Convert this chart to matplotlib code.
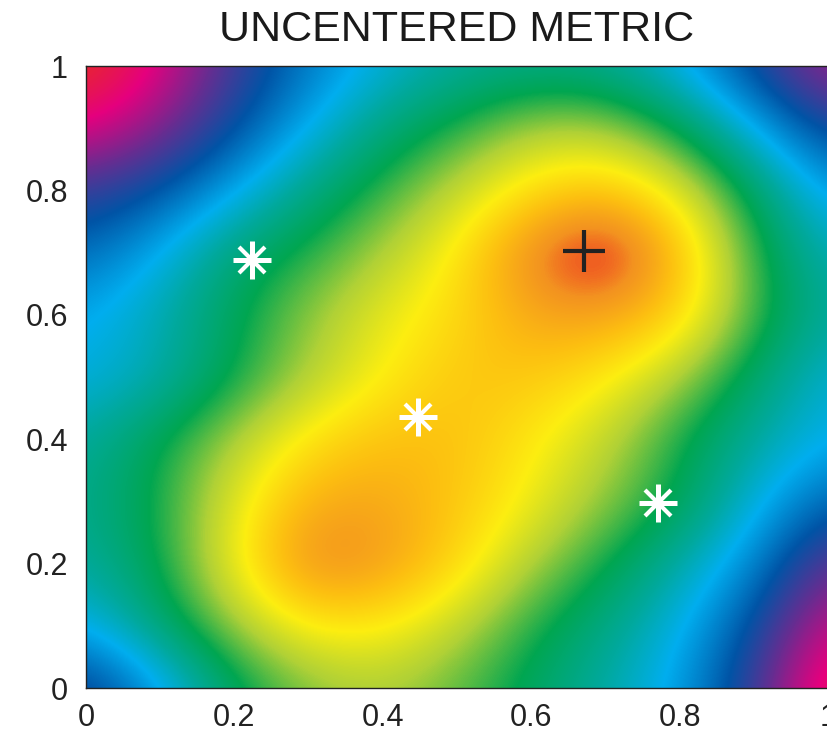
import matplotlib
matplotlib.use("Agg")
import matplotlib.pyplot as plt
import numpy as np
from matplotlib.colors import LinearSegmentedColormap

# Field values on a regular grid x, y = 0, 0.1, ..., 1
# (rows from y = 1.0 at top down to y = 0.0 at bottom), in colour-scale units.
grid_x = [0.0, 0.1, 0.2, 0.3, 0.4, 0.5, 0.6, 0.7, 0.8, 0.9, 1.0]
grid_y = [1.0, 0.9, 0.8, 0.7, 0.6, 0.5, 0.4, 0.3, 0.2, 0.1, 0.0]
field = [
    [-0.03, 0.10, 0.26, 0.38, 0.47, 0.53, 0.55, 0.54, 0.45, 0.30, 0.16],
    [0.10, 0.19, 0.32, 0.45, 0.57, 0.64, 0.72, 0.72, 0.62, 0.45, 0.30],
    [0.27, 0.33, 0.44, 0.56, 0.65, 0.74, 0.83, 0.87, 0.78, 0.60, 0.42],
    [0.36, 0.45, 0.58, 0.64, 0.72, 0.81, 0.96, 1.05, 0.88, 0.65, 0.50],
    [0.44, 0.51, 0.61, 0.70, 0.78, 0.83, 0.91, 0.92, 0.85, 0.66, 0.53],
    [0.46, 0.51, 0.62, 0.72, 0.80, 0.86, 0.86, 0.81, 0.72, 0.59, 0.47],
    [0.53, 0.62, 0.72, 0.82, 0.87, 0.87, 0.81, 0.74, 0.63, 0.53, 0.45],
    [0.55, 0.63, 0.77, 0.90, 0.91, 0.86, 0.79, 0.70, 0.62, 0.47, 0.35],
    [0.53, 0.62, 0.79, 0.96, 0.93, 0.84, 0.72, 0.63, 0.52, 0.40, 0.22],
    [0.45, 0.58, 0.71, 0.81, 0.81, 0.74, 0.64, 0.56, 0.46, 0.32, 0.12],
    [0.28, 0.42, 0.60, 0.69, 0.72, 0.67, 0.60, 0.52, 0.43, 0.27, 0.03],
]

# Marked points
star_x = [0.224, 0.448, 0.771]
star_y = [0.688, 0.436, 0.298]
best_x = [0.671]
best_y = [0.703]

title = "UNCENTERED METRIC"
ticks = [0, 0.2, 0.4, 0.6, 0.8, 1]
tick_labels = ["0", "0.2", "0.4", "0.6", "0.8", "1"]

# Colour scale (low -> high)
cmap_pos = [0.00, 0.10, 0.22, 0.33, 0.45, 0.53, 0.62, 0.72, 0.80, 0.87, 0.94, 1.00]
cmap_col = ["#e8262e", "#e5007e", "#662d91", "#0054a6", "#00aeef", "#00a99d",
            "#00a651", "#b0d136", "#fcee10", "#fdc010", "#f39220", "#ec2a24"]
cmap = LinearSegmentedColormap.from_list("printrainbow", list(zip(cmap_pos, cmap_col)), N=512)
cmap.set_under("#e8262e")
cmap.set_over("#e8262e")

plt.rcParams['font.family'] = ['Liberation Sans', 'DejaVu Sans']

fig = plt.figure(figsize=(8.28, 7.34), dpi=100)
ax = fig.add_axes([86 / 828, 46 / 734, 742 / 828, 622 / 734])

Z = np.array(field)
dx = (grid_x[1] - grid_x[0]) / 2
ax.imshow(Z, cmap=cmap, vmin=0, vmax=1, interpolation='bicubic',
          extent=[grid_x[0] - dx, grid_x[-1] + dx, grid_y[-1] - dx, grid_y[0] + dx],
          origin='upper', aspect='auto')

# white asterisks: plus + x overlay
ax.plot(star_x, star_y, linestyle='none', marker='+', markersize=27,
        markeredgewidth=3.6, color='white')
ax.plot(star_x, star_y, linestyle='none', marker='x', markersize=19,
        markeredgewidth=3.0, color='white')
ax.plot(best_x, best_y, linestyle='none', marker='+', markersize=30,
        markeredgewidth=3.0, color='#222222')

ax.set_xlim(0, 1)
ax.set_ylim(0, 1)
ax.set_xticks(ticks)
ax.set_xticklabels(tick_labels)
ax.set_yticks(ticks)
ax.set_yticklabels(tick_labels)
ax.tick_params(axis='both', length=0, labelsize=22, colors='#222222')
ax.tick_params(axis='x', pad=11)
ax.tick_params(axis='y', pad=13)
for s in ax.spines.values():
    s.set_color('#222222')
    s.set_linewidth(1.0)

ax.set_title(title, fontsize=31, pad=18, color='#1a1a1a')

fig.savefig("out.png", dpi=100)
